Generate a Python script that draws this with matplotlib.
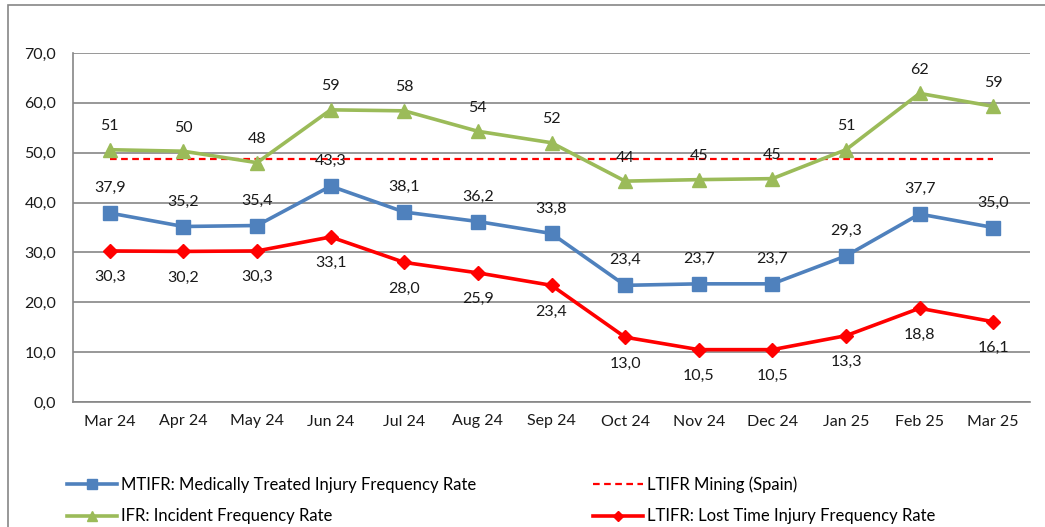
import matplotlib
matplotlib.use("Agg")
import matplotlib.pyplot as plt
from matplotlib.patches import Rectangle

# data
months = ['Mar 24', 'Apr 24', 'May 24', 'Jun 24', 'Jul 24', 'Aug 24', 'Sep 24',
          'Oct 24', 'Nov 24', 'Dec 24', 'Jan 25', 'Feb 25', 'Mar 25']
mtifr = [37.9, 35.2, 35.4, 43.3, 38.1, 36.2, 33.8, 23.4, 23.7, 23.7, 29.3, 37.7, 35.0]
ifr = [50.6, 50.3, 48.0, 58.6, 58.4, 54.3, 52.0, 44.3, 44.6, 44.8, 50.6, 61.9, 59.3]
ltifr = [30.3, 30.2, 30.3, 33.1, 28.0, 25.9, 23.4, 13.0, 10.5, 10.5, 13.3, 18.8, 16.1]
ltifr_spain = 48.7
yticks = [0, 10, 20, 30, 40, 50, 60, 70]

blue = '#4F81BD'
green = '#9BBB59'
red = '#FF0000'
grey = '#868686'

plt.rcParams['font.family'] = ['Lato', 'DejaVu Sans']

fig = plt.figure(figsize=(10.45, 5.27), dpi=100)
ax = fig.add_axes([73/1045, 1-402/527, (1030-73)/1045, (402-53)/527])

x = list(range(len(months)))

l_mt, = ax.plot(x, mtifr, color=blue, lw=2.6, marker='s', ms=9.5,
                label='MTIFR: Medically Treated Injury Frequency Rate', zorder=4)
l_ifr, = ax.plot(x, ifr, color=green, lw=2.6, marker='^', ms=10,
                 label='IFR: Incident Frequency Rate', zorder=4)
l_sp, = ax.plot(x, [ltifr_spain]*len(x), color=red, lw=1.6, ls=(0, (3, 2)),
                label='LTIFR Mining (Spain)', zorder=3)
l_lt, = ax.plot(x, ltifr, color=red, lw=2.6, marker='D', ms=7,
                label='LTIFR: Lost Time Injury Frequency Rate', zorder=5)

def fmt(v):
    return ('%.1f' % v).replace('.', ',')

for i in x:
    ax.annotate('%.0f' % ifr[i], (i, ifr[i]), xytext=(0, 17), textcoords='offset points',
                ha='center', va='center', fontsize=11.5, color='#1a1a1a')
    ax.annotate(fmt(mtifr[i]), (i, mtifr[i]), xytext=(0, 18), textcoords='offset points',
                ha='center', va='center', fontsize=11.5, color='#1a1a1a')
    ax.annotate(fmt(ltifr[i]), (i, ltifr[i]), xytext=(0, -19), textcoords='offset points',
                ha='center', va='center', fontsize=11.5, color='#1a1a1a')

ax.set_xlim(-0.5, len(months) - 0.5)
ax.set_ylim(0, 70)
ax.set_yticks(yticks)
ax.set_yticklabels([fmt(v) for v in yticks])
ax.set_xticks(x)
ax.set_xticklabels(months)
ax.tick_params(axis='y', length=0, pad=12, labelsize=11.5, colors='#1a1a1a')
ax.tick_params(axis='x', length=0, pad=9, labelsize=11.5, colors='#1a1a1a')
ax.grid(axis='y', color=grey, lw=1.2)
ax.set_axisbelow(True)
for s in ['top', 'right']:
    ax.spines[s].set_visible(False)
ax.spines['left'].set_color(grey)
ax.spines['bottom'].set_color(grey)
ax.spines['left'].set_linewidth(1.2)
ax.spines['bottom'].set_linewidth(1.2)

leg = fig.legend(handles=[l_mt, l_ifr, l_sp, l_lt], ncol=2, loc='upper left',
                 bbox_to_anchor=(67/1045, 1-476/527), frameon=False,
                 prop={'size': 12}, borderpad=0, borderaxespad=0,
                 handlelength=3.0, handletextpad=0.24, columnspacing=7.0,
                 labelspacing=0.95, markerscale=0.75)

# outer chart border
fig.patches.append(Rectangle((8/1045, -0.05), 1.2, 1 - 5/527 + 0.05,
                             transform=fig.transFigure, fill=False,
                             edgecolor=grey, lw=1.2))

fig.savefig('out.png', dpi=100)
